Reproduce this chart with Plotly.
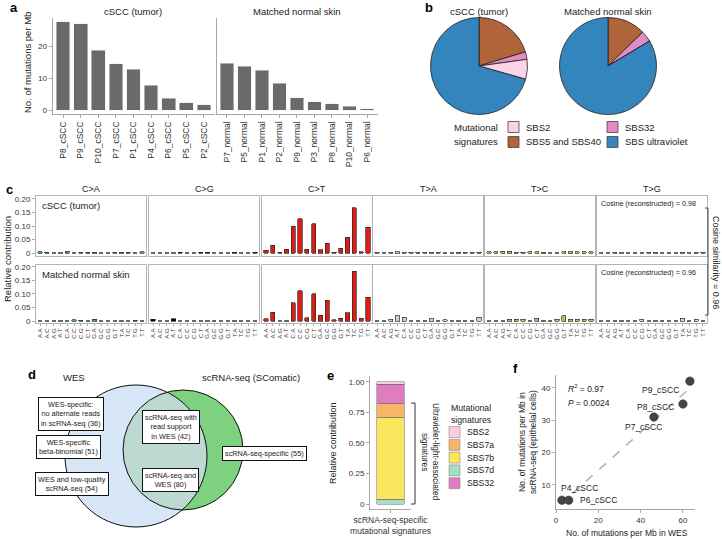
import numpy as np
import plotly.graph_objects as go

W, H = 722, 539
FONT = "Liberation Sans"
INK = "#222222"
LINE = "#a8a8a8"

# ---------------- data ----------------
# a: mutation burden (WES)
tumor_samples = ["P8_cSCC", "P9_cSCC", "P10_cSCC", "P7_cSCC", "P1_cSCC",
                 "P4_cSCC", "P6_cSCC", "P5_cSCC", "P2_cSCC"]
tumor_burden = [27.6, 27.0, 18.6, 14.5, 12.8, 7.7, 3.6, 2.3, 1.7]
normal_samples = ["P7_normal", "P5_normal", "P1_normal", "P2_normal", "P9_normal",
                  "P3_normal", "P8_normal", "P10_normal", "P6_normal"]
normal_burden = [14.6, 13.6, 12.5, 8.3, 3.8, 2.6, 1.9, 1.2, 0.4]

# b: signature fractions (clockwise from 12 o'clock)
sig_names = ["SBS5 and SBS40", "SBS32", "SBS2", "SBS ultraviolet"]
sig_colors = ["#b0643a", "#e48bc6", "#fbd2e6", "#3484be"]
tumor_sig = [0.203, 0.025, 0.066, 0.706]
normal_sig = [0.127, 0.037, 0.0, 0.836]

# c: 96-channel profiles
contexts = ["A.A", "A.C", "A.G", "A.T", "C.A", "C.C", "C.G", "C.T",
            "G.A", "G.C", "G.G", "G.T", "T.A", "T.C", "T.G", "T.T"]
substitutions = ["C>A", "C>G", "C>T", "T>A", "T>C", "T>G"]
sub_colors = ["#2aa6dc", "#000000", "#de1c14", "#d4d2d2", "#adcc54", "#f0d0ce"]

tumor_CA = [0.004, 0.002, 0.001, 0.001, 0.007, 0.001, 0.002, 0.002, 0.002, 0.001, 0.001, 0.002, 0.002, 0.003, 0.001, 0.005]
tumor_CG = [0.001, 0.001, 0.001, 0.001, 0.002, 0.001, 0.001, 0.002, 0.002, 0.001, 0.001, 0.001, 0.002, 0.001, 0.001, 0.002]
tumor_CT = [0.010, 0.028, 0.002, 0.014, 0.099, 0.127, 0.014, 0.108, 0.013, 0.036, 0.003, 0.018, 0.058, 0.167, 0.004, 0.095]
tumor_TA = [0.003, 0.001, 0.002, 0.004, 0.002, 0.002, 0.002, 0.002, 0.002, 0.002, 0.001, 0.001, 0.003, 0.002, 0.003, 0.002]
tumor_TC = [0.004, 0.004, 0.006, 0.007, 0.003, 0.002, 0.004, 0.005, 0.002, 0.001, 0.001, 0.005, 0.005, 0.004, 0.004, 0.005]
tumor_TG = [0.001, 0.001, 0.003, 0.001, 0.001, 0.001, 0.001, 0.002, 0.002, 0.001, 0.001, 0.001, 0.002, 0.001, 0.002, 0.002]

normal_CA = [0.001, 0.001, 0.001, 0.001, 0.001, 0.004, 0.002, 0.001, 0.007, 0.001, 0.001, 0.001, 0.001, 0.001, 0.002, 0.001]
normal_CG = [0.006, 0.001, 0.001, 0.009, 0.001, 0.001, 0.001, 0.001, 0.001, 0.001, 0.001, 0.001, 0.001, 0.001, 0.001, 0.001]
normal_CT = [0.009, 0.032, 0.001, 0.001, 0.068, 0.111, 0.012, 0.101, 0.021, 0.076, 0.005, 0.011, 0.031, 0.183, 0.010, 0.088]
normal_TA = [0.001, 0.001, 0.006, 0.020, 0.013, 0.001, 0.001, 0.001, 0.008, 0.001, 0.005, 0.001, 0.001, 0.001, 0.001, 0.013]
normal_TC = [0.001, 0.001, 0.001, 0.006, 0.006, 0.006, 0.001, 0.010, 0.001, 0.001, 0.006, 0.020, 0.006, 0.006, 0.006, 0.006]
normal_TG = [0.001, 0.001, 0.001, 0.001, 0.001, 0.001, 0.006, 0.001, 0.001, 0.001, 0.001, 0.001, 0.010, 0.001, 0.006, 0.001]

tumor_rows = [tumor_CA, tumor_CG, tumor_CT, tumor_TA, tumor_TC, tumor_TG]
normal_rows = [normal_CA, normal_CG, normal_CT, normal_TA, normal_TC, normal_TG]
cosine_recon = [0.98, 0.96]
cosine_sim = 0.96

# d: venn categories
venn_labels = ["WES-specific:<br>no alternate reads<br>in scRNA-seq", "WES-specific<br>beta-binomial",
               "WES and low-quality<br>scRNA-seq", "scRNA-seq with<br>read support<br>in WES",
               "scRNA-seq and<br>WES", "scRNA-seq-specific"]
venn_counts = [36, 51, 54, 42, 80, 55]

# e: scRNA-seq-specific signatures (bottom -> top)
e_sigs = ["SBS7d", "SBS7b", "SBS7a", "SBS32", "SBS2"]
e_values = [0.04, 0.67, 0.115, 0.155, 0.02]
e_colors = {"SBS2": "#fbcde3", "SBS7a": "#f9b46c", "SBS7b": "#fbe55c", "SBS7d": "#a5dec3", "SBS32": "#e07cc0"}
e_legend = ["SBS2", "SBS7a", "SBS7b", "SBS7d", "SBS32"]

# f: WES vs scRNA-seq burden
f_samples = ["P4_cSCC", "P6_cSCC", "P7_cSCC", "P8_cSCC", "P9_cSCC"]
f_wes = [2.8, 6.0, 46.3, 60.0, 63.3]
f_sc = [5.2, 5.2, 31.0, 35.0, 42.1]


def px(x):
    return x / W


def py(y):
    return 1 - y / H


def xdom(a, b):
    return [px(a), px(b)]


def ydom(top, bottom):
    return [py(bottom), py(top)]


fig = go.Figure()
layout = {}
shapes = []
annos = []


def text(x, y, s, size=9, xanchor="center", yanchor="middle", angle=0, color=INK, **kw):
    annos.append(dict(x=px(x), y=py(y), xref="paper", yref="paper", text=s, showarrow=False,
                      xanchor=xanchor, yanchor=yanchor, textangle=angle,
                      font=dict(size=size, color=color, family=FONT), **kw))


def line(x0, y0, x1, y1, color="#333", width=1, dash=None):
    shapes.append(dict(type="line", xref="paper", yref="paper", x0=px(x0), y0=py(y0),
                       x1=px(x1), y1=py(y1), line=dict(color=color, width=width, dash=dash)))


def rect(x0, y0, x1, y1, fill, color="#444", width=0.8):
    shapes.append(dict(type="rect", xref="paper", yref="paper", x0=px(x0), y0=py(y1),
                       x1=px(x1), y1=py(y0), fillcolor=fill, line=dict(color=color, width=width)))


def axis(**kw):
    base = dict(showgrid=False, zeroline=False, automargin=False, showline=True,
                linecolor=LINE, linewidth=1, tickcolor=LINE, ticklen=3,
                tickfont=dict(size=8, color="#333", family=FONT))
    base.update(kw)
    return base


# panel letters
for lt, x, y in [("a", 14, 7), ("b", 429, 7), ("c", 9, 190), ("d", 32, 374), ("e", 330, 375), ("f", 515, 368)]:
    text(x, y, "<b>" + lt + "</b>", size=13, color="#000")

# ---------------- a ----------------
fig.add_bar(x=tumor_samples, y=tumor_burden, marker_color="#6a6a6a", width=0.78,
            xaxis="x", yaxis="y", showlegend=False)
fig.add_bar(x=normal_samples, y=normal_burden, marker_color="#6a6a6a", width=0.78,
            xaxis="x2", yaxis="y2", showlegend=False)
layout["xaxis"] = axis(domain=xdom(52.5, 214.5), range=[-0.6, 8.6], anchor="y",
                       ticks="outside", tickangle=-90, tickfont=dict(size=8.5, color="#333", family=FONT))
layout["yaxis"] = axis(domain=ydom(18, 114), range=[-1.25, 28.75], anchor="x",
                       ticks="outside", tickvals=[0, 10, 20])
layout["xaxis2"] = axis(domain=xdom(217, 377.5), range=[-0.57, 8.6], anchor="y2",
                        ticks="outside", tickangle=-90, tickfont=dict(size=8.5, color="#333", family=FONT))
layout["yaxis2"] = axis(domain=ydom(18, 114), range=[-1.25, 28.75], anchor="x2",
                        showticklabels=False, ticks="")
text(133, 12, "cSCC (tumor)", size=9.5)
text(297, 12, "Matched normal skin", size=9.5)
text(27, 62, "No. of mutations per Mb", size=9.5, angle=-90)

# ---------------- b ----------------
for vals, cx, title in [(tumor_sig, 479, "cSCC (tumor)"), (normal_sig, 608, "Matched normal skin")]:
    fig.add_pie(values=vals, labels=sig_names, sort=False, direction="clockwise", rotation=0,
                domain=dict(x=xdom(cx - 48.5, cx + 48.5), y=ydom(17.5, 114.5)),
                marker=dict(colors=sig_colors, line=dict(color="#222", width=0.8)),
                textinfo="none", showlegend=False, hoverinfo="label+percent")
    text(cx, 11, title, size=9.5)

text(476, 127, "Mutational", size=9.5)
text(476, 142, "signatures", size=9.5)
b_leg = [("SBS2", 508, 127), ("SBS5 and SBS40", 508, 142), ("SBS32", 607, 127), ("SBS ultraviolet", 607, 142)]
for name, x, y in b_leg:
    rect(x, y - 5.5, x + 11, y + 5.5, sig_colors[sig_names.index(name)])
    text(x + 16, y, name, size=9.5, xanchor="left")

# ---------------- c ----------------
col_left = [36, 149, 262, 373, 485, 597]
rows = [(tumor_rows, 196, 256, [-0.011, 0.211]), (normal_rows, 265, 323, [-0.0074, 0.207])]
for r, (profile, top, bottom, yr) in enumerate(rows):
    for c in range(6):
        n = 3 + r * 6 + c
        fig.add_bar(x=contexts, y=profile[c], width=0.62, xaxis="x%d" % n, yaxis="y%d" % n,
                    marker=dict(color=sub_colors[c], line=dict(color="#2a2a2a", width=0.7)),
                    showlegend=False)
        bottom_row = r == 1
        layout["xaxis%d" % n] = axis(domain=xdom(col_left[c], col_left[c] + 110), range=[-0.6, 15.6],
                                     anchor="y%d" % n, mirror=True, linecolor="#b4b4b4",
                                     ticks="outside" if bottom_row else "", ticklen=2,
                                     tickmode="linear", tick0=0, dtick=1,
                                     showticklabels=bottom_row, tickangle=-90,
                                     tickfont=dict(size=6, color="#333", family=FONT))
        layout["yaxis%d" % n] = axis(domain=ydom(top, bottom), range=yr, anchor="x%d" % n,
                                     mirror=True, linecolor="#b4b4b4",
                                     ticks="outside" if c == 0 else "", showticklabels=c == 0,
                                     tickvals=[0, 0.05, 0.10, 0.15, 0.20],
                                     ticktext=["0", "0.05", "0.10", "0.15", "0.20"])
    text(40, top + 9, ["cSCC (tumor)", "Matched normal skin"][r], size=9.5, xanchor="left")
    text(599, top + 8, "Cosine (reconstructed) = %.2f" % cosine_recon[r], size=7.2, xanchor="left")
for c in range(6):
    text(col_left[c] + 55, 189, substitutions[c].replace(">", "&gt;"), size=9)
text(7, 259, "Relative contribution", size=9.5, angle=-90)
line(708, 208, 708, 315, color="#444")
line(705, 208, 708, 208, color="#444")
line(705, 315, 708, 315, color="#444")
text(716, 262, "Cosine similarity = %.2f" % cosine_sim, size=9, angle=90)

# ---------------- d ----------------
c1, r1 = (136.0, 456.0), 71.0
c2, r2 = (183.0, 450.0), 60.0


def circle(c, r, fill, color):
    shapes.append(dict(type="circle", xref="paper", yref="paper",
                       x0=px(c[0] - r), x1=px(c[0] + r), y0=py(c[1] + r), y1=py(c[1] - r),
                       fillcolor=fill, line=dict(color=color, width=1)))


circle(c1, r1, "#d8e7f8", "rgba(0,0,0,0)")
circle(c2, r2, "#7ed17f", "rgba(0,0,0,0)")
# lens of overlap
th = np.linspace(0, 2 * np.pi, 720)
a2 = [(c2[0] + r2 * np.cos(t), c2[1] + r2 * np.sin(t)) for t in th
      if (c2[0] + r2 * np.cos(t) - c1[0]) ** 2 + (c2[1] + r2 * np.sin(t) - c1[1]) ** 2 <= r1 ** 2]
th1 = np.linspace(-np.pi, np.pi, 720)
a1 = [(c1[0] + r1 * np.cos(t), c1[1] + r1 * np.sin(t)) for t in th1
      if (c1[0] + r1 * np.cos(t) - c2[0]) ** 2 + (c1[1] + r1 * np.sin(t) - c2[1]) ** 2 <= r2 ** 2]
pts = a2 + a1
path = "M " + " L ".join("%.5f,%.5f" % (px(x), py(y)) for x, y in pts) + " Z"
shapes.append(dict(type="path", xref="paper", yref="paper", path=path,
                   fillcolor="#bcdad1", line=dict(width=0)))
circle(c1, r1, "rgba(0,0,0,0)", "#111")
circle(c2, r2, "rgba(0,0,0,0)", "#111")
text(74, 377, "WES", size=9.5)
text(251, 377, "scRNA-seq (SComatic)", size=9.5)
venn_pos = [(71, 414), (68, 447), (72, 484), (171, 427), (170, 480), (264, 453)]
for lab, cnt, (x, y) in zip(venn_labels, venn_counts, venn_pos):
    text(x, y, "%s (%d)" % (lab, cnt), size=7.3, bordercolor="#111", borderwidth=1,
         bgcolor="white", borderpad=2)

# ---------------- e ----------------
e_cat = "scRNA-seq-specific<br>mutational signatures"
for s, v in zip(e_sigs, e_values):
    fig.add_bar(x=[e_cat], y=[v], width=0.66, xaxis="x15", yaxis="y15", showlegend=False,
                marker=dict(color=e_colors[s], line=dict(color="#666", width=0.5)), name=s)
layout["xaxis15"] = axis(domain=xdom(370, 411), range=[-0.5, 0.5], anchor="y15", ticks="outside",
                         tickfont=dict(size=8.5, color="#333", family=FONT))
layout["yaxis15"] = axis(domain=ydom(376, 509), range=[-0.041, 1.049], anchor="x15", ticks="outside",
                         tickvals=[0, 0.25, 0.5, 0.75, 1.0], ticktext=["0", "0.25", "0.50", "0.75", "1.00"])
text(333, 443, "Relative contribution", size=9, angle=-90)
line(415, 403, 415, 504, color="#333")
line(411, 403, 415, 403, color="#333")
line(411, 504, 415, 504, color="#333")
text(436, 452, "Ultraviolet-light-associated", size=8.3, angle=90)
text(425, 452, "signatures", size=8.3, angle=90)
text(449, 408, "Mutational", size=8.7, xanchor="left")
text(449, 420, "signatures", size=8.7, xanchor="left")
for i, s in enumerate(e_legend):
    y = 432 + i * 12.8
    rect(449, y - 5.5, 460, y + 5.5, e_colors[s], color="#888", width=0.6)
    text(465, y, s, size=8.7, xanchor="left")

# ---------------- f ----------------
k, b0 = np.polyfit(f_wes, f_sc, 1)
xf = np.array([min(f_wes) + 5, max(f_wes)])
fig.add_scatter(x=xf, y=k * xf + b0, mode="lines", xaxis="x16", yaxis="y16", showlegend=False,
                line=dict(color="#b5b5b5", width=1.6, dash="dash"))
fig.add_scatter(x=f_wes, y=f_sc, mode="markers", xaxis="x16", yaxis="y16", showlegend=False,
                marker=dict(size=8.5, color="#454545", line=dict(color="#333", width=0.5)))
layout["xaxis16"] = axis(domain=xdom(556, 695), range=[0, 65.7], anchor="y16", ticks="outside",
                         tickvals=[0, 20, 40, 60])
layout["yaxis16"] = axis(domain=ydom(375, 509), range=[2.48, 44.0], anchor="x16", ticks="outside",
                         tickvals=[10, 20, 30, 40])
f_off = {"P4_cSCC": ("left", -3, 12), "P6_cSCC": ("left", 9, 0), "P7_cSCC": ("right", 10, -10),
         "P8_cSCC": ("right", -7, -3), "P9_cSCC": ("right", -9, -9)}
for s, x, y in zip(f_samples, f_wes, f_sc):
    xa, dx, dy = f_off[s]
    annos.append(dict(x=x, y=y, xref="x16", yref="y16", text=s, showarrow=False, xanchor=xa,
                      xshift=dx, yshift=dy, font=dict(size=8.5, color=INK, family=FONT)))
text(566, 388, "<i>R</i><sup>2</sup> = 0.97", size=8.5, xanchor="left")
text(566, 403, "<i>P</i> = 0.0024", size=8.5, xanchor="left")
text(527, 442, "No. of mutations per Mb in<br>scRNA-seq (epithelial cells)", size=8.5, angle=-90)
text(627, 533, "No. of mutations per Mb in WES", size=8.5)

fig.update_layout(width=W, height=H, margin=dict(l=0, r=0, t=0, b=0), barmode="stack",
                  plot_bgcolor="white", paper_bgcolor="white",
                  font=dict(family=FONT, size=8, color=INK),
                  shapes=shapes, annotations=annos, **layout)
fig.write_html("out.html", config={"displayModeBar": False},
               post_script="document.body.style.margin='0';document.body.style.overflow='hidden';")
